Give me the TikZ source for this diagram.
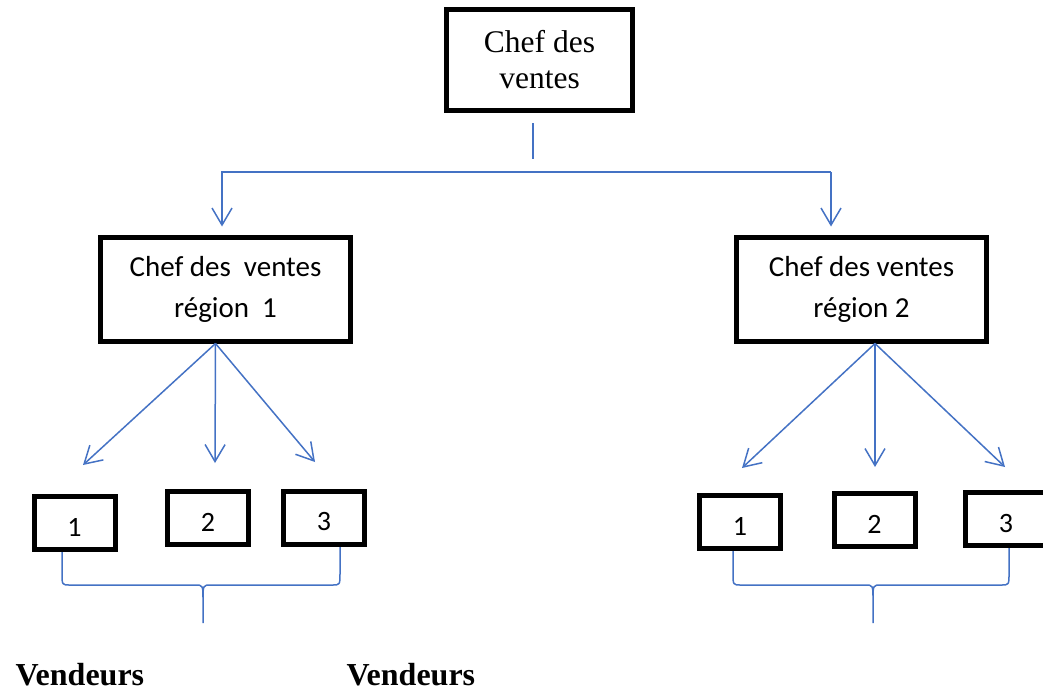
\documentclass[tikz,border=0pt]{standalone}
\usepackage{fontspec}
\setmainfont{Liberation Serif}
\newfontfamily\calibri{Carlito}
\usetikzlibrary{positioning,arrows.meta}
\definecolor{link}{HTML}{4472C4}

\begin{document}
\begin{tikzpicture}[x=1pt,y=-1pt,
  box/.style={draw,fill=white,line width=5pt,inner sep=0pt,align=center},
  lead/.style={box,minimum width=250pt,minimum height=104pt,font=\calibri\fontsize{29}{41}\selectfont},
  seller/.style={box,minimum width=81pt,minimum height=53pt,text height=27pt,font=\calibri\fontsize{28}{34}\selectfont},
  label/.style={anchor=base west,font=\bfseries\fontsize{32}{38}\selectfont},
  line/.style={link,line width=1.5pt},
  arr/.style={line,-{Straight Barb[length=17pt,width=20pt]}}]
\clip (0,0) rectangle (1043,691);
% braces under the sellers
\foreach \l/\m/\r in {62/203/340,733/873/1009}
  \draw[line] (\l,548) -- (\l,573) .. controls (\l,585) .. (\l+8,585) -- (\m-8,585) .. controls (\m,585) .. (\m,600) -- (\m,623)
    (\r,545) -- (\r,573) .. controls (\r,585) .. (\r-8,585) -- (\m+8,585) .. controls (\m,585) .. (\m,600);
\node[box,minimum width=186pt,minimum height=101pt,font=\fontsize{31.5}{36}\selectfont] (chef) at (539.5,59.5) {Chef des\\ventes};
\node[lead] (reg1) at (225.5,289) {Chef des\ \ ventes\\région\ \ 1};
\node[lead] (reg2) at (861.5,289) {Chef des ventes\\région 2};
\node[seller] (v1a) at (74.5,522.5) {1};
\node[seller] (v2a) at (208,517.5) {2};
\node[seller] (v3a) at (324,517.5) {3};
\node[seller] (v1b) at (740,522) {1};
\node[seller] (v2b) at (874.5,520) {2};
\node[seller] (v3b) at (1006,519) {3};
\node[label] (vend1) at (12,685) {Vendeurs};
\node[label] (vend2) at (343,685) {Vendeurs};
% top split
\coordinate (stemtop) at (533,123);
\coordinate (stembot) at (533,159);
\coordinate (bar1) at (222,172);
\coordinate (bar2) at (831,172);
\draw[line] (stemtop) -- (stembot);
\draw[arr,shorten >=8pt] (bar2) -- (bar1) -- (bar1 |- reg1.north);
\draw[arr,shorten >=8pt] (bar2) -- (bar2 |- reg2.north);
% fans to the sellers
\coordinate (fan1) at ([xshift=-10]reg1.south);
\coordinate (fan2) at ([xshift=13.5]reg2.south);
\coordinate (t1a) at (83,465);
\coordinate (t2a) at (215,463);
\coordinate (t3a) at (315,462);
\coordinate (t1b) at (742,468);
\coordinate (t2b) at (875,467);
\coordinate (t3b) at (1005,467);
\foreach \t in {t1a,t2a,t3a} \draw[arr] (fan1) -- (\t);
\foreach \t in {t1b,t2b,t3b} \draw[arr] (fan2) -- (\t);
\end{tikzpicture}
\end{document}
